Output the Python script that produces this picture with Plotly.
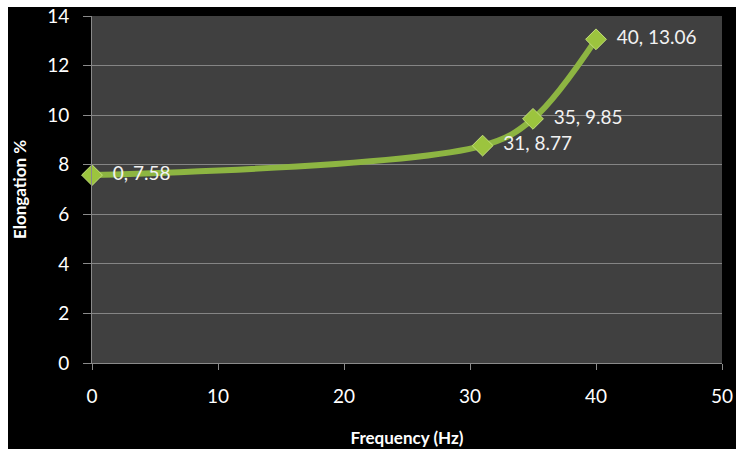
import plotly.graph_objects as go

frequency_hz = [0, 31, 35, 40]
elongation_pct = [7.58, 8.77, 9.85, 13.06]
point_labels = [f"  {f}, {e}" for f, e in zip(frequency_hz, elongation_pct)]

x_ticks = [0, 10, 20, 30, 40, 50]
y_ticks = [0, 2, 4, 6, 8, 10, 12, 14]

FONT = "Lato, 'Open Sans', sans-serif"

fig = go.Figure()
fig.add_trace(go.Scatter(
    x=frequency_hz,
    y=elongation_pct,
    mode="lines+markers+text",
    line=dict(color="#8db542", width=6, shape="spline", smoothing=1.0),
    marker=dict(symbol="diamond", size=16, color="#9cc43e",
                line=dict(color="#c3e07a", width=1)),
    text=point_labels,
    textposition="middle right",
    textfont=dict(color="#f2f2f2", size=19, family=FONT),
    cliponaxis=False,
    showlegend=False,
))

W, H = 736, 454
L, R, T, B = 92, 14, 16, 91
pw, ph = W - L - R, H - T - B


def px_x(p):
    return (p - L) / pw


def px_y(p):
    return (H - B - p) / ph


# white frame around the black chart area
white = dict(type="rect", xref="paper", yref="paper", fillcolor="white",
             line=dict(width=0), layer="above")
fig.add_shape(**white, x0=px_x(0), x1=px_x(W), y0=px_y(7), y1=px_y(0))
fig.add_shape(**white, x0=px_x(0), x1=px_x(8), y0=px_y(H), y1=px_y(0))
fig.add_shape(**white, x0=px_x(0), x1=px_x(W), y0=px_y(H), y1=px_y(449))

fig.update_layout(
    width=W, height=H,
    margin=dict(l=L, r=R, t=T, b=B, autoexpand=False),
    paper_bgcolor="black",
    plot_bgcolor="#404040",
    font=dict(family=FONT, color="white", size=19),
    xaxis=dict(
        range=[0, 50], tickvals=x_ticks, ticktext=[str(v) for v in x_ticks],
        showgrid=False, zeroline=False, automargin=False,
        showline=True, linecolor="#8a8a8a", linewidth=1,
        ticks="outside", ticklen=6, tickcolor="#8a8a8a",
        ticklabelstandoff=10,
        tickfont=dict(size=19, color="white"),
        title=dict(text="<b>Frequency (Hz)</b>", font=dict(size=17, color="white"),
                   standoff=26),
    ),
    yaxis=dict(
        range=[0, 14], tickvals=y_ticks, ticktext=[str(v) for v in y_ticks],
        showgrid=True, gridcolor="#858585", gridwidth=1, zeroline=False,
        automargin=False,
        showline=True, linecolor="#8a8a8a", linewidth=1,
        ticks="outside", ticklen=8, tickcolor="#8a8a8a",
        ticklabelstandoff=10,
        tickfont=dict(size=19, color="white"),
        title=dict(text="<b>Elongation %</b>", font=dict(size=17, color="white"),
                   standoff=16),
    ),
)

fig.write_html("out.html")
